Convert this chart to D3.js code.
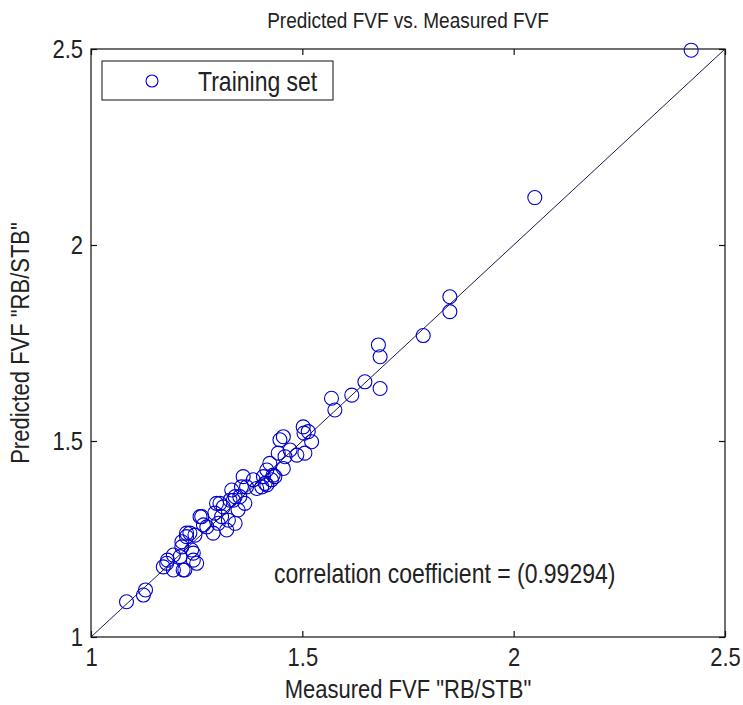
<!DOCTYPE html>
<html>
<head>
<meta charset="utf-8">
<script src="https://cdn.jsdelivr.net/npm/d3@7"></script>
<style>
  html, body { margin: 0; padding: 0; background: #fff; }
  svg { display: block; }
  text { font-family: "Liberation Sans", Arial, sans-serif; fill: #222; }
</style>
</head>
<body>
<svg id="chart" width="743" height="705"></svg>
<script>
// Measured vs. predicted formation volume factor (RB/STB), training set
const measured = [
  1.084, 1.124, 1.129, 1.171, 1.181, 1.195, 1.218, 1.215, 1.226, 1.234,
  1.242, 1.238, 1.246, 1.262, 1.274, 1.289, 1.297, 1.301, 1.313, 1.325,
  1.333, 1.337, 1.348, 1.352, 1.360, 1.364, 1.368, 1.384, 1.408, 1.416,
  1.404, 1.423, 1.435, 1.447, 1.455, 1.459, 1.471, 1.487, 1.502, 1.504,
  1.522, 1.569, 1.577, 1.617, 1.648, 1.684, 1.680, 1.684, 1.786, 1.849,
  1.849, 2.050, 2.420, 1.179, 1.195, 1.211, 1.250, 1.266, 1.321, 1.293,
  1.309, 1.341, 1.416, 1.455, 1.514, 1.443, 1.392, 1.341, 1.215, 1.258,
  1.305, 1.506, 1.329, 1.226, 1.222, 1.242, 1.356, 1.412, 1.431, 1.427
];
const predicted = [
  1.090, 1.107, 1.120, 1.179, 1.196, 1.209, 1.171, 1.230, 1.256, 1.265,
  1.196, 1.222, 1.260, 1.307, 1.281, 1.265, 1.341, 1.290, 1.332, 1.298,
  1.375, 1.349, 1.324, 1.358, 1.409, 1.341, 1.383, 1.401, 1.409, 1.426,
  1.383, 1.443, 1.409, 1.503, 1.430, 1.460, 1.477, 1.464, 1.536, 1.520,
  1.498, 1.609, 1.579, 1.617, 1.651, 1.634, 1.745, 1.715, 1.769, 1.868,
  1.830, 2.121, 2.497, 1.188, 1.171, 1.205, 1.188, 1.286, 1.273, 1.316,
  1.307, 1.290, 1.388, 1.511, 1.524, 1.469, 1.379, 1.358, 1.243, 1.307,
  1.341, 1.469, 1.349, 1.265, 1.171, 1.214, 1.383, 1.392, 1.413, 1.401
];
const ticks = [1, 1.5, 2, 2.5];
const titleText = "Predicted FVF vs. Measured FVF";
const xLabel = 'Measured FVF "RB/STB"';
const yLabel = 'Predicted FVF "RB/STB"';
const legendLabel = "Training set";
const correlation = 0.99294;

const svg = d3.select("#chart");
const box = { left: 91, right: 725, top: 49, bottom: 637 };

const x = d3.scaleLinear().domain([1, 2.5]).range([box.left, box.right]);
const y = d3.scaleLinear().domain([1, 2.5]).range([box.bottom, box.top]);

const fmt = d => String(d);
const tickLen = 6;
const labelFont = "22px";
const stretch = 1.2;   // glyphs are drawn slightly taller than wide

// text placed at (tx, ty) with vertical stretch
function label(parent, tx, ty, str, size, anchor, rotate) {
  const g = parent.append("g")
    .attr("transform", `translate(${tx},${ty})` + (rotate ? ` rotate(${rotate})` : "") + ` scale(1,${stretch})`);
  return g.append("text").attr("text-anchor", anchor || "start")
    .style("font-size", size).text(str);
}

// axis box
svg.append("rect")
  .attr("x", box.left).attr("y", box.top)
  .attr("width", box.right - box.left).attr("height", box.bottom - box.top)
  .attr("fill", "none").attr("stroke", "#111").attr("stroke-width", 1.2);

// inward ticks on all four sides
const axisBottom = d3.axisBottom(x).tickValues(ticks).tickFormat(fmt).tickSizeInner(-tickLen).tickSizeOuter(0);
const axisTop = d3.axisTop(x).tickValues(ticks).tickFormat("").tickSizeInner(-tickLen).tickSizeOuter(0);
const axisLeft = d3.axisLeft(y).tickValues(ticks).tickFormat(fmt).tickSizeInner(-tickLen).tickSizeOuter(0);
const axisRight = d3.axisRight(y).tickValues(ticks).tickFormat("").tickSizeInner(-tickLen).tickSizeOuter(0);

function style(g) {
  g.select(".domain").remove();
  g.selectAll(".tick line").attr("stroke", "#111").attr("stroke-width", 1.2);
  g.selectAll(".tick text").attr("fill", "#222").style("font-size", labelFont)
    .style("font-family", '"Liberation Sans", Arial, sans-serif');
}
svg.append("g").attr("transform", `translate(0,${box.bottom})`).call(axisBottom).call(style)
  .selectAll(".tick text").attr("y", 0).attr("dy", 0)
  .attr("transform", `translate(0,29) scale(1,${stretch})`);
svg.append("g").attr("transform", `translate(0,${box.top})`).call(axisTop).call(style);
svg.append("g").attr("transform", `translate(${box.left},0)`).call(axisLeft).call(style)
  .selectAll(".tick text").attr("x", 0).attr("dy", 0)
  .attr("transform", `translate(-8,8) scale(1,${stretch})`);
svg.append("g").attr("transform", `translate(${box.right},0)`).call(axisRight).call(style);

// y = x reference line
svg.append("line")
  .attr("x1", x(1)).attr("y1", y(1))
  .attr("x2", x(2.5)).attr("y2", y(2.5))
  .attr("stroke", "#1a1a4a").attr("stroke-width", 1);

// data markers
const pts = measured.map((m, i) => ({ m, p: predicted[i] }));
svg.append("g").selectAll("circle").data(pts).join("circle")
  .attr("cx", d => x(d.m)).attr("cy", d => y(d.p)).attr("r", 7)
  .attr("fill", "none").attr("stroke", "#0000cc").attr("stroke-width", 1.1);

// title and axis labels
label(svg, (box.left + box.right) / 2, 28, titleText, "19px", "middle");
label(svg, (box.left + box.right) / 2, 698, xLabel, labelFont, "middle");
label(svg, 29, (box.top + box.bottom) / 2, yLabel, labelFont, "middle", -90);

// correlation annotation
label(svg, 274, 583, `correlation coefficient = (${correlation})`, "23px", "start");

// legend
const lg = svg.append("g");
lg.append("rect").attr("x", 102).attr("y", 61).attr("width", 231).attr("height", 39)
  .attr("fill", "#fff").attr("stroke", "#111").attr("stroke-width", 1);
lg.append("circle").attr("cx", 152).attr("cy", 81).attr("r", 6)
  .attr("fill", "none").attr("stroke", "#0000cc").attr("stroke-width", 1.1);
label(lg, 198, 91, legendLabel, "23px", "start");
</script>
</body>
</html>
